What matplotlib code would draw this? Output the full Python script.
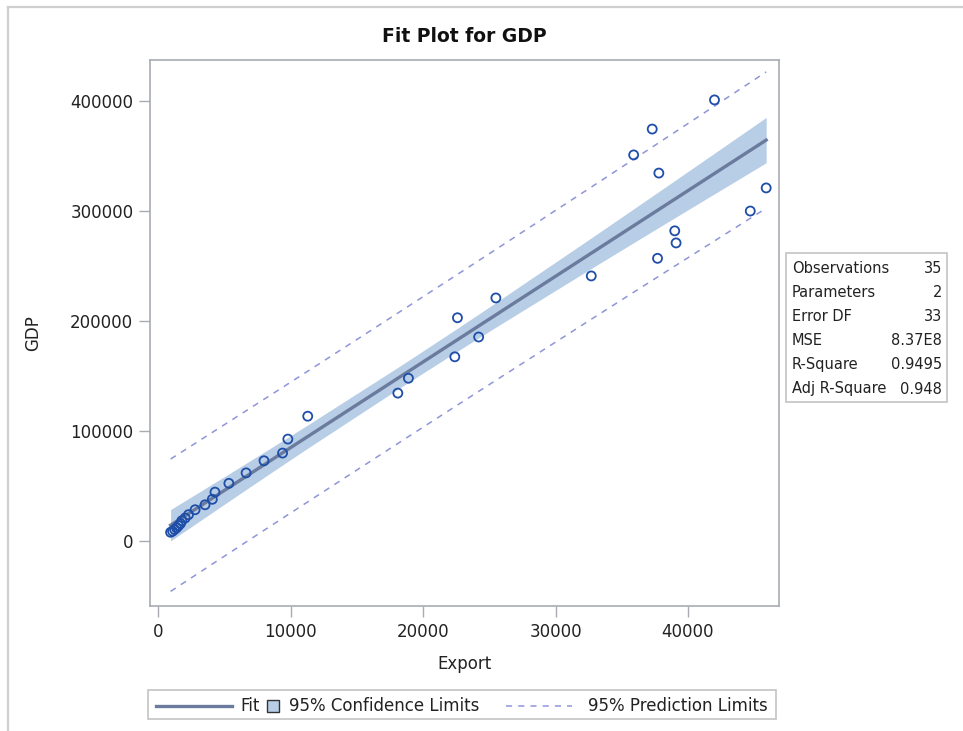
import numpy as np
import matplotlib
matplotlib.use("Agg")
import matplotlib.pyplot as plt
from matplotlib.lines import Line2D
from matplotlib.patches import Rectangle

plt.rcParams['font.family'] = ['DejaVu Sans']

# Observations: Export vs GDP
export = [42000, 37300, 35900, 37800, 45900, 44700, 39000, 39100, 37700, 32700,
          25500, 22600, 22400, 24200, 18900, 18100, 11300, 9800, 9400, 8000,
          6650, 5350, 4300, 4100, 3550, 2800, 2300, 2050, 1800, 1700,
          1550, 1400, 1250, 1100, 950]
gdp = [401000, 374500, 351000, 334500, 321000, 300000, 282000, 271000, 257000, 241000,
       221000, 203000, 167500, 185500, 148000, 134500, 113500, 92700, 80000, 73000,
       62000, 52500, 44500, 38000, 33000, 28500, 24000, 21000, 18500, 16000,
       14000, 12000, 10500, 9000, 8000]

stat_names = ["Observations", "Parameters", "Error DF", "MSE", "R-Square", "Adj R-Square"]
stat_values = ["35", "2", "33", "8.37E8", "0.9495", "0.948"]

x_ticks = [0, 10000, 20000, 30000, 40000]
y_ticks = [0, 100000, 200000, 300000, 400000]

# Ordinary least squares fit with 95% confidence / prediction limits
x = np.array(export, dtype=float)
y = np.array(gdp, dtype=float)
n = len(x)
X = np.column_stack([np.ones(n), x])
beta, *_ = np.linalg.lstsq(X, y, rcond=None)
resid = y - X @ beta
dfe = n - 2
mse = resid @ resid / dfe
t_crit = 2.0345  # t(0.975, 33)
order = np.argsort(x)
xs = x[order]
Xs = np.column_stack([np.ones(n), xs])
XtX_inv = np.linalg.inv(X.T @ X)
lev = np.einsum('ij,jk,ik->i', Xs, XtX_inv, Xs)
yhat = Xs @ beta
se_mean = np.sqrt(mse * lev)
se_pred = np.sqrt(mse * (1 + lev))

band_col = '#b8cde6'
fit_col = '#6a7b9e'
pred_col = '#8f95d8'
mark_col = '#1f4ea8'
frame_col = '#a8acb2'
text_col = '#222222'

fig = plt.figure(figsize=(9.63, 7.31), dpi=100)
ax = fig.add_axes([150 / 963, 1 - 606 / 731, 629 / 963, 546 / 731])

ax.fill_between(xs, yhat - t_crit * se_mean, yhat + t_crit * se_mean,
                color=band_col, lw=0, zorder=1)
ax.plot(xs, yhat, color=fit_col, lw=2.4, zorder=2)
ax.plot(xs, yhat + t_crit * se_pred, color=pred_col, lw=1.1, ls=(0, (4, 4)), zorder=2)
ax.plot(xs, yhat - t_crit * se_pred, color=pred_col, lw=1.1, ls=(0, (4, 4)), zorder=2)
ax.scatter(x, y, s=42, facecolors='none', edgecolors=mark_col, linewidths=1.3, zorder=3)

ax.set_xlim(-604, 46868)
ax.set_ylim(-59000, 437273)
ax.set_xticks(x_ticks)
ax.set_yticks(y_ticks)
ax.set_xticklabels([str(v) for v in x_ticks])
ax.set_yticklabels([str(v) for v in y_ticks])
ax.tick_params(direction='out', length=8, width=1, color=frame_col,
               labelsize=12, labelcolor=text_col, pad=4)
for s in ax.spines.values():
    s.set_color(frame_col)
    s.set_linewidth(1.2)
ax.set_xlabel('Export', fontsize=12, color=text_col, labelpad=10)
ax.set_ylabel('GDP', fontsize=12, color=text_col, labelpad=20)
fig.text(464 / 963, 1 - 37 / 731, 'Fit Plot for GDP', ha='center', va='center',
         fontsize=13.5, fontweight='bold', color='#111111')

# Fit statistics inset
fig.add_artist(Rectangle((786 / 963, 1 - 402 / 731), 161 / 963, 149 / 731,
                         transform=fig.transFigure, fill=False,
                         edgecolor='#c4c4c4', lw=1.2))
for i, (nm, val) in enumerate(zip(stat_names, stat_values)):
    yy = 1 - (268 + i * 24.2) / 731
    fig.text(792 / 963, yy, nm, ha='left', va='center', fontsize=10.5, color=text_col)
    fig.text(942 / 963, yy, val, ha='right', va='center', fontsize=10.5, color=text_col)

# Legend row
ly = 1 - 706 / 731
fig.add_artist(Rectangle((148 / 963, 1 - 719 / 731), 628 / 963, 29 / 731,
                         transform=fig.transFigure, fill=False,
                         edgecolor='#c4c4c4', lw=1.2))
fig.add_artist(Line2D([156 / 963, 232 / 963], [ly, ly], transform=fig.transFigure,
                      color=fit_col, lw=2.4))
fig.text(240 / 963, ly, 'Fit', ha='left', va='center', fontsize=12, color=text_col)
fig.add_artist(Rectangle((267 / 963, ly - 6 / 731), 12 / 963, 12 / 731,
                         transform=fig.transFigure, facecolor=band_col,
                         edgecolor='#333333', lw=1))
fig.text(289 / 963, ly, '95% Confidence Limits', ha='left', va='center',
         fontsize=12, color=text_col)
fig.add_artist(Line2D([506 / 963, 572 / 963], [ly, ly],
                      transform=fig.transFigure, color=pred_col, lw=1.1,
                      ls=(0, (4, 4))))
fig.text(588 / 963, ly, '95% Prediction Limits', ha='left', va='center',
         fontsize=12, color=text_col)

# Outer page frame
fig.add_artist(Line2D([8 / 963, 8 / 963], [0, 1 - 7 / 731], transform=fig.transFigure,
                      color='#cfcfcf', lw=1.6))
fig.add_artist(Line2D([8 / 963, 1], [1 - 7 / 731, 1 - 7 / 731], transform=fig.transFigure,
                      color='#cfcfcf', lw=1.6))

fig.savefig('out.png', dpi=100, facecolor='white')
